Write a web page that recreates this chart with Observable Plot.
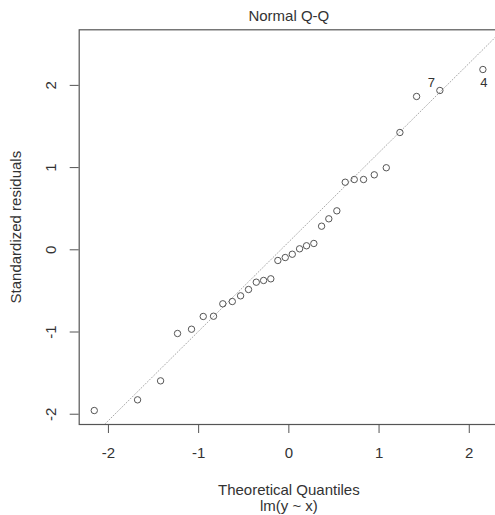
<!DOCTYPE html>
<html>
<head>
<meta charset="utf-8">
<script src="https://cdn.jsdelivr.net/npm/d3@7"></script>
<script src="https://cdn.jsdelivr.net/npm/@observablehq/plot@0.6"></script>
<style>
  html, body { margin: 0; padding: 0; background: #fff; }
</style>
</head>
<body>
<div id="chart"></div>
<script>
// Theoretical quantiles (x) and standardized residuals (y)
const theoretical = [-2.157,-1.677,-1.422,-1.234,-1.079,-0.949,-0.835,-0.732,-0.627,-0.535,-0.447,-0.361,-0.280,-0.200,-0.122,-0.040,0.038,0.119,0.196,0.277,0.363,0.443,0.532,0.625,0.725,0.828,0.947,1.080,1.231,1.416,1.674,2.151];
const residuals = [-1.955,-1.825,-1.594,-1.018,-0.966,-0.811,-0.808,-0.657,-0.629,-0.560,-0.483,-0.394,-0.373,-0.353,-0.130,-0.094,-0.054,0.012,0.049,0.077,0.287,0.377,0.474,0.822,0.855,0.855,0.912,0.998,1.427,1.865,1.938,2.193];
// Labelled observations: index into the sorted points, and label text
const labelIndex = [30, 31];
const labelText = ["7", "4"];
// qqline parameters
const qqIntercept = 0.097;
const qqSlope = 1.087;
// Tick values
const xTicks = [-2, -1, 0, 1, 2];
const yTicks = [-2, -1, 0, 1, 2];
const title = "Normal Q-Q";
const xTitle = "Theoretical Quantiles";
const xSubtitle = "lm(y ~ x)";
const yTitle = "Standardized residuals";

const points = theoretical.map((x, i) => ({x, y: residuals[i]}));
const xDomain = [-2.324, 2.324];
const yDomain = [-2.125, 2.676];
const qqData = xDomain.map(x => ({x, y: qqIntercept + qqSlope * x}));
const lab = i => points[labelIndex[i]];

const FONT = "'Liberation Sans', Arial, Helvetica, sans-serif";
const TXT = "#333";
const INK = "#555";

const chart = Plot.plot({
  width: 495,
  height: 515,
  marginLeft: 78.7,
  marginRight: -3,
  marginTop: 29.3,
  marginBottom: 91,
  style: {fontFamily: FONT, background: "#fff", overflow: "visible"},
  x: {domain: xDomain, range: [78.7, 498], label: null},
  y: {domain: yDomain, range: [424, 29.3], label: null},
  marks: [
    Plot.line(qqData, {x: "x", y: "y", stroke: "#aaa", strokeWidth: 1, strokeDasharray: "1,2", clip: true}),
    Plot.dot(points, {x: "x", y: "y", r: 3.2, stroke: INK, strokeWidth: 1, fill: "none"}),
    Plot.text([lab(0)], {x: "x", y: "y", text: () => labelText[0], dx: -8.6, dy: -8, fontSize: 13, fill: TXT, fontFamily: FONT}),
    Plot.text([lab(1)], {x: "x", y: "y", text: () => labelText[1], dx: 1, dy: 13, fontSize: 13, fill: TXT, fontFamily: FONT}),
    Plot.frame({stroke: INK, strokeWidth: 1.2}),
    Plot.axisX({ticks: xTicks, tickSize: 9, tickFormat: () => "", stroke: INK, label: null}),
    Plot.axisY({ticks: yTicks, tickSize: 9, tickFormat: () => "", stroke: INK, label: null}),
    Plot.text(xTicks, {x: d => d, text: d => String(d), frameAnchor: "bottom", dy: 29, lineAnchor: "middle", fontSize: 15, fill: TXT}),
    Plot.text(yTicks, {y: d => d, text: d => String(d), frameAnchor: "left", dx: -27.7, rotate: -90, lineAnchor: "middle", textAnchor: "middle", fontSize: 15, fill: TXT}),
    Plot.text([title], {text: d => d, frameAnchor: "top", dy: -13.6, lineAnchor: "middle", fontSize: 15, fill: TXT}),
    Plot.text([xTitle], {text: d => d, frameAnchor: "bottom", dy: 65.5, lineAnchor: "middle", fontSize: 15, fill: TXT}),
    Plot.text([xSubtitle], {text: d => d, frameAnchor: "bottom", dy: 81.7, lineAnchor: "middle", fontSize: 15, fill: TXT}),
    Plot.text([yTitle], {text: d => d, frameAnchor: "left", dx: -63.5, rotate: -90, lineAnchor: "middle", textAnchor: "middle", fontSize: 15, fill: TXT})
  ]
});
document.getElementById("chart").appendChild(chart);
</script>
</body>
</html>
